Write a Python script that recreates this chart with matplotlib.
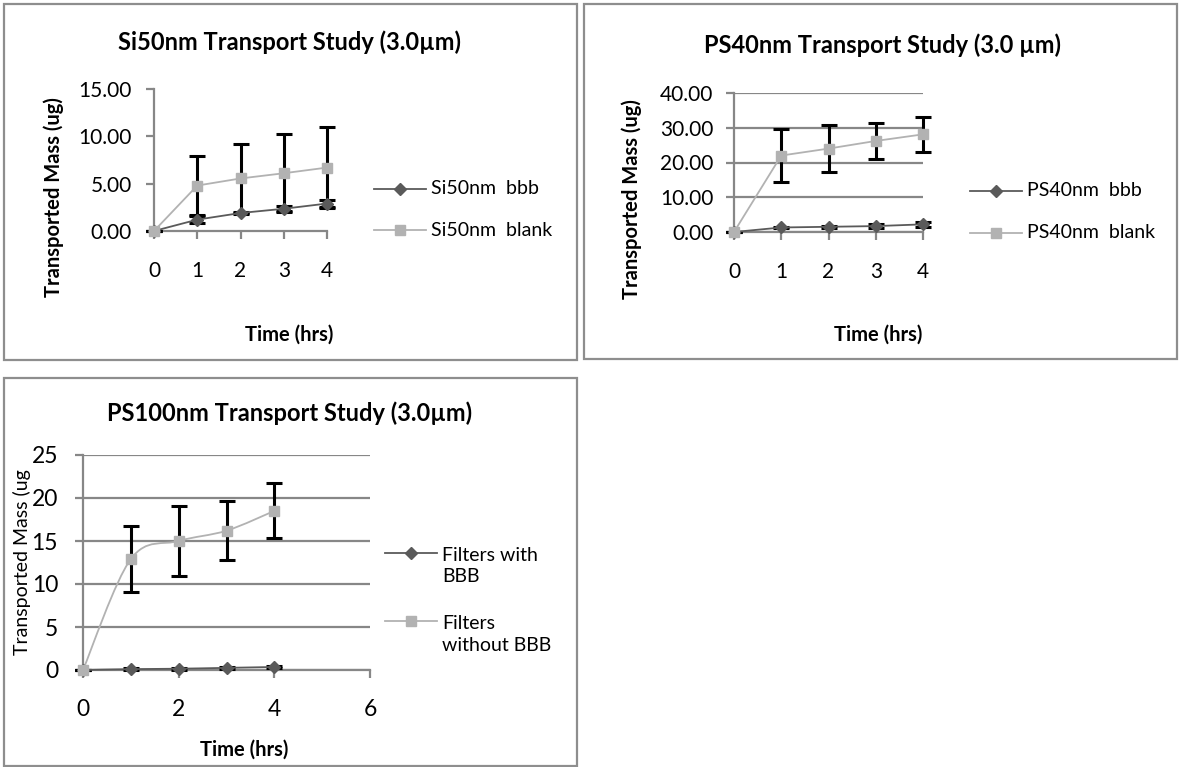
import numpy as np
import matplotlib
matplotlib.use('Agg')
import matplotlib.pyplot as plt
from matplotlib.patches import Rectangle, PathPatch
from matplotlib.path import Path
from matplotlib.lines import Line2D

plt.rcParams['font.family'] = ['Lato', 'DejaVu Sans']

# Данные
time_h = [0, 1, 2, 3, 4]

si_bbb = [0, 1.2, 1.9, 2.35, 2.9]
si_bbb_err = [0, 0.35, 0.1, 0.25, 0.35]
si_blank = [0, 4.8, 5.55, 6.1, 6.7]
si_blank_err = [0, 3.1, 3.6, 4.1, 4.3]

ps40_bbb = [0, 1.3, 1.5, 1.7, 2.2]
ps40_bbb_err = [0, 0.2, 0.3, 0.6, 0.8]
ps40_blank = [0, 22.0, 24.0, 26.2, 28.1]
ps40_blank_err = [0, 7.7, 6.8, 5.1, 5.0]

ps100_bbb = [0, 0.1, 0.15, 0.25, 0.35]
ps100_bbb_err = [0, 0.1, 0.1, 0.1, 0.1]
ps100_blank = [0, 12.9, 15.0, 16.2, 18.5]
ps100_blank_err = [0, 3.8, 4.05, 3.4, 3.2]

W, H = 1179, 767
DARK = '#5a5a5a'
LIGHT = '#b2b2b2'
AXC = '#878787'

fig = plt.figure(figsize=(W / 100, H / 100), dpi=100)


def add_ax(x0, y0, x1, y1):
    return fig.add_axes([x0 / W, 1 - y1 / H, (x1 - x0) / W, (y1 - y0) / H])


def border(x0, y0, x1, y1):
    fig.add_artist(Rectangle((x0 / W, 1 - y1 / H), (x1 - x0) / W, (y1 - y0) / H,
                             fill=False, ec='#8e8e8e', lw=1.6, transform=fig.transFigure))


def style(ax, grid, fs, xpad, ypad):
    for s in ['top', 'right']:
        ax.spines[s].set_visible(False)
    for s in ['left', 'bottom']:
        ax.spines[s].set_color(AXC)
        ax.spines[s].set_linewidth(1.6)
    ax.tick_params(axis='both', colors=AXC, length=6, width=1.6, labelsize=fs,
                   labelcolor='black')
    ax.tick_params(axis='x', pad=xpad)
    ax.tick_params(axis='y', pad=ypad)
    if grid:
        ax.yaxis.grid(True, color=AXC, lw=1.6)
        ax.set_axisbelow(True)


def smooth_path(x, y):
    pts = np.column_stack([x, y]).astype(float)
    n = len(pts)
    verts = [pts[0]]
    codes = [Path.MOVETO]
    for i in range(n - 1):
        p0 = pts[max(i - 1, 0)]
        p1 = pts[i]
        p2 = pts[i + 1]
        p3 = pts[min(i + 2, n - 1)]
        verts += [p1 + (p2 - p0) / 6, p2 - (p3 - p1) / 6, p2]
        codes += [Path.CURVE4] * 3
    return Path(verts, codes)


def plot_series(ax, x, y, err, color, marker, ms, smooth=False):
    eb = ax.errorbar(x, y, yerr=err, fmt='none', ecolor='black', elinewidth=2.2,
                     capsize=5.5, capthick=2.2, zorder=3)
    for art in eb.get_children():
        art.set_clip_on(False)
    if smooth:
        ax.add_patch(PathPatch(smooth_path(x, y), fill=False, ec=color, lw=1.3,
                               zorder=4, clip_on=False))
        ax.plot(x, y, ls='none', marker=marker, ms=ms, color=color, zorder=5,
                clip_on=False)
    else:
        ax.plot(x, y, color=color, lw=1.3, marker=marker, ms=ms, zorder=4,
                clip_on=False)


def legend_entry(x0, y, label, color, marker, ms, fs, text_y=None):
    xs = [x0 / W, (x0 + 26) / W, (x0 + 52) / W]
    fig.add_artist(Line2D(xs, [1 - y / H] * 3, color=color, lw=1.3, marker=marker,
                          ms=ms, markevery=[1], transform=fig.transFigure))
    if text_y is None:
        text_y = y
    fig.text((x0 + 57) / W, 1 - text_y / H, label, fontsize=fs, va='center', ha='left',
             linespacing=1.35)


# Панель 1
border(4, 4, 577, 360)
ax1 = add_ax(154, 89, 327, 231)
plot_series(ax1, time_h, si_bbb, si_bbb_err, DARK, 'D', 6.5)
plot_series(ax1, time_h, si_blank, si_blank_err, LIGHT, 's', 7.5)
ax1.set_xlim(0, 4)
ax1.set_ylim(0, 15)
ax1.set_xticks(time_h)
ax1.set_yticks([0, 5, 10, 15])
ax1.set_yticklabels(['%.2f' % v for v in [0, 5, 10, 15]])
style(ax1, False, 15, 15.5, 10)
fig.text(290 / W, 1 - 42 / H, 'Si50nm Transport Study (3.0µm)', fontsize=17,
         fontweight='bold', ha='center', va='center')
fig.text(289 / W, 1 - 335 / H, 'Time (hrs)', fontsize=14.5, fontweight='bold',
         ha='center', va='center')
fig.text(54 / W, 1 - 197 / H, 'Transported Mass (ug)', fontsize=14.5, fontweight='bold',
         ha='center', va='center', rotation=90)
legend_entry(374, 189, 'Si50nm  bbb', DARK, 'D', 6.5, 14)
legend_entry(374, 230, 'Si50nm  blank', LIGHT, 's', 7.5, 14)

# Панель 2
border(584, 4, 1177, 359)
ax2 = add_ax(734, 93, 923, 232)
plot_series(ax2, time_h, ps40_bbb, ps40_bbb_err, DARK, 'D', 6.5)
plot_series(ax2, time_h, ps40_blank, ps40_blank_err, LIGHT, 's', 7.5)
ax2.set_xlim(0, 4)
ax2.set_ylim(0, 40)
ax2.set_xticks(time_h)
ax2.set_yticks([0, 10, 20, 30, 40])
ax2.set_yticklabels(['%.2f' % v for v in [0, 10, 20, 30, 40]])
style(ax2, True, 15, 15.5, 9)
fig.text(882 / W, 1 - 45 / H, 'PS40nm Transport Study (3.0 µm)', fontsize=17,
         fontweight='bold', ha='center', va='center')
fig.text(878 / W, 1 - 335 / H, 'Time (hrs)', fontsize=14.5, fontweight='bold',
         ha='center', va='center')
fig.text(632 / W, 1 - 199 / H, 'Transported Mass (ug)', fontsize=14.5, fontweight='bold',
         ha='center', va='center', rotation=90)
legend_entry(970, 191, 'PS40nm  bbb', DARK, 'D', 6.5, 14)
legend_entry(970, 233, 'PS40nm  blank', LIGHT, 's', 7.5, 14)

# Панель 3
border(4, 378, 577, 766)
ax3 = add_ax(83, 455, 370, 670)
plot_series(ax3, time_h, ps100_bbb, ps100_bbb_err, DARK, 'D', 6.5, smooth=True)
plot_series(ax3, time_h, ps100_blank, ps100_blank_err, LIGHT, 's', 7.5, smooth=True)
ax3.set_xlim(0, 6)
ax3.set_ylim(0, 25)
ax3.set_xticks([0, 2, 4, 6])
ax3.set_yticks([0, 5, 10, 15, 20, 25])
style(ax3, True, 16.5, 15, 12)
fig.text(290 / W, 1 - 413 / H, 'PS100nm Transport Study (3.0µm)', fontsize=17,
         fontweight='bold', ha='center', va='center')
fig.text(244 / W, 1 - 750 / H, 'Time (hrs)', fontsize=14.5, fontweight='bold',
         ha='center', va='center')
fig.text(22 / W, 1 - 562 / H, 'Transported Mass (ug', fontsize=14,
         ha='center', va='center', rotation=90)
legend_entry(385, 553, 'Filters with\nBBB', DARK, 'D', 6.5, 14, text_y=566)
legend_entry(385, 621, 'Filters\nwithout BBB', LIGHT, 's', 7.5, 14, text_y=634.5)

fig.savefig('out.png', dpi=100)
